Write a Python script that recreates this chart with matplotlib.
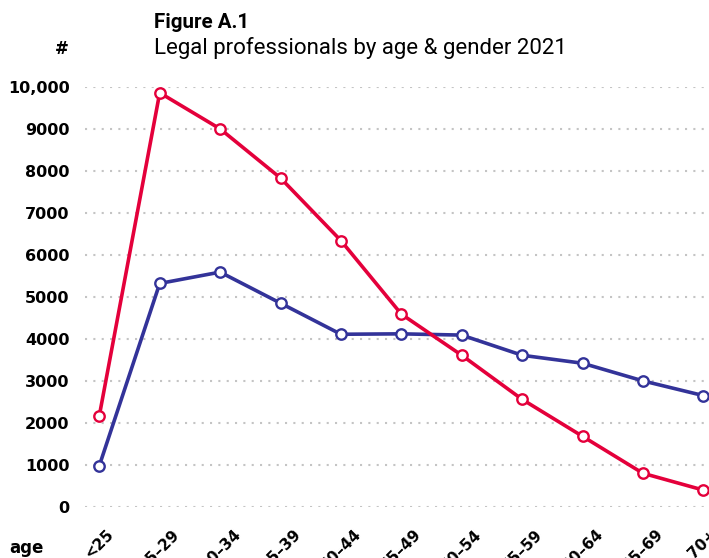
import matplotlib
matplotlib.use("Agg")
from matplotlib import pyplot as plt

ages = ["<25", "25–29", "30–34", "35–39", "40–44", "45–49",
        "50–54", "55–59", "60–64", "65–69", "70+"]
women = [2180, 9870, 9010, 7840, 6350, 4600, 3620, 2570, 1690, 810, 410]
men = [990, 5330, 5600, 4860, 4120, 4130, 4100, 3620, 3430, 3010, 2660]
yticks = [0, 1000, 2000, 3000, 4000, 5000, 6000, 7000, 8000, 9000, 10000]
ytick_labels = ["0", "1000", "2000", "3000", "4000", "5000", "6000",
                "7000", "8000", "9000", "10,000"]

RED = "#e4003b"
BLUE = "#333399"

W, H = 709, 558
fig = plt.figure(figsize=(W / 100, H / 100), dpi=100)
ax = fig.add_axes([85 / W, 1 - 507.3 / H, (W - 85) / W, 420 / H])

xs = list(range(len(ages)))
for vals, col in [(men, BLUE), (women, RED)]:
    ax.plot(xs, vals, color=col, lw=2.6, marker="o", ms=7.5,
            mfc="white", mec=col, mew=1.7, clip_on=False, zorder=3)

ax.set_xlim(-0.237, 10.094)
ax.set_ylim(0, 10000)

ax.set_yticks(yticks)
ax.set_yticklabels(ytick_labels, fontsize=11.5, fontweight="bold",
                   va="center_baseline")
ax.set_xticks(xs)
ax.set_xticklabels(ages, fontsize=11, fontweight="bold", rotation=45,
                   ha="center", va="top")
ax.tick_params(axis="y", length=0, pad=11)
ax.tick_params(axis="x", length=0, pad=14)

ax.grid(axis="y", color="#c4c4c4", lw=1.5, linestyle=(0, (1, 3)))
ax.grid(axis="x", visible=False)
ax.set_axisbelow(True)
for s in ax.spines.values():
    s.set_visible(False)

fig.text(154 / W, 1 - 28.3 / H, "Figure A.1", fontsize=14.8, fontweight="bold",
         va="baseline", ha="left", family="Roboto")
fig.text(154 / W, 1 - 54.3 / H, "Legal professionals by age & gender 2021",
         fontsize=16, va="baseline", ha="left", family="Roboto")
fig.text(69 / W, 1 - 54 / H, "#", fontsize=12, fontweight="bold",
         va="baseline", ha="right")
fig.text(9 / W, 1 - 553 / H, "age", fontsize=12, fontweight="bold",
         va="baseline", ha="left")

fig.savefig("out.png", dpi=100)
